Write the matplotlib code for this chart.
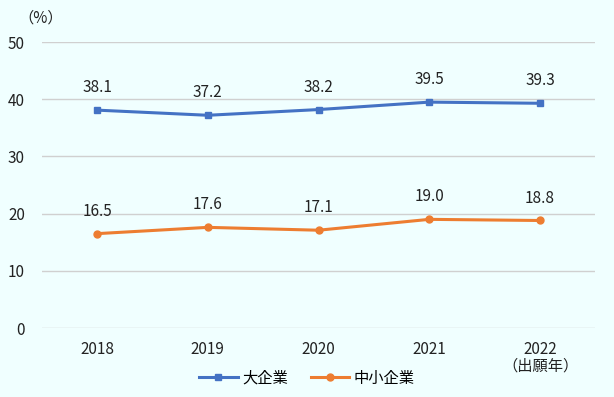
import matplotlib
matplotlib.use("Agg")
import matplotlib.pyplot as plt

plt.rcParams['font.family'] = ['Noto Sans CJK JP', 'DejaVu Sans']

years = ["2018", "2019", "2020", "2021", "2022"]
large = [38.1, 37.2, 38.2, 39.5, 39.3]
sme = [16.5, 17.6, 17.1, 19.0, 18.8]
series_names = ["大企業", "中小企業"]

bg = "#F0FFFF"
fs = 11
fig = plt.figure(figsize=(6.14, 3.97), dpi=100, facecolor=bg)
ax = fig.add_axes([0.0678, 0.1738, 0.9019, 0.7202], facecolor=bg)

x = list(range(len(years)))
ax.plot(x, large, color="#4472C4", lw=2.2, marker="s", ms=5, label=series_names[0], zorder=3)
ax.plot(x, sme, color="#ED7D31", lw=2.2, marker="o", ms=5, label=series_names[1], zorder=3)

for xi, v in zip(x, large):
    ax.annotate(f"{v:.1f}", (xi, v), xytext=(0, 10), textcoords="offset points",
                ha="center", va="bottom", fontsize=fs, color="#222222")
for xi, v in zip(x, sme):
    ax.annotate(f"{v:.1f}", (xi, v), xytext=(0, 10), textcoords="offset points",
                ha="center", va="bottom", fontsize=fs, color="#222222")

ax.set_xlim(-0.5, len(years) - 0.5)
ax.set_ylim(0, 50)
ax.set_yticks(range(0, 51, 10))
ax.set_xticks(x)
labels = years[:-1] + [years[-1] + "\n（出願年）"]
ax.set_xticklabels(labels, fontsize=fs, color="#222222", linespacing=1.0)
ax.tick_params(axis="y", labelsize=fs, colors="#222222", length=0, pad=12)
ax.tick_params(axis="x", length=0, pad=9)
ax.grid(axis="y", color="#D0D0D0", lw=1)
ax.set_axisbelow(True)
for s in ax.spines.values():
    s.set_visible(False)

fig.text(0.03, 0.955, "（%）", fontsize=fs, color="#222222", ha="left", va="center")

leg = fig.legend(loc="center", bbox_to_anchor=(0.5, 0.047), ncol=2, frameon=False,
                 fontsize=fs, handlelength=2.5, columnspacing=1.5, handletextpad=0.3)

fig.savefig("out.png", dpi=100, facecolor=bg)
